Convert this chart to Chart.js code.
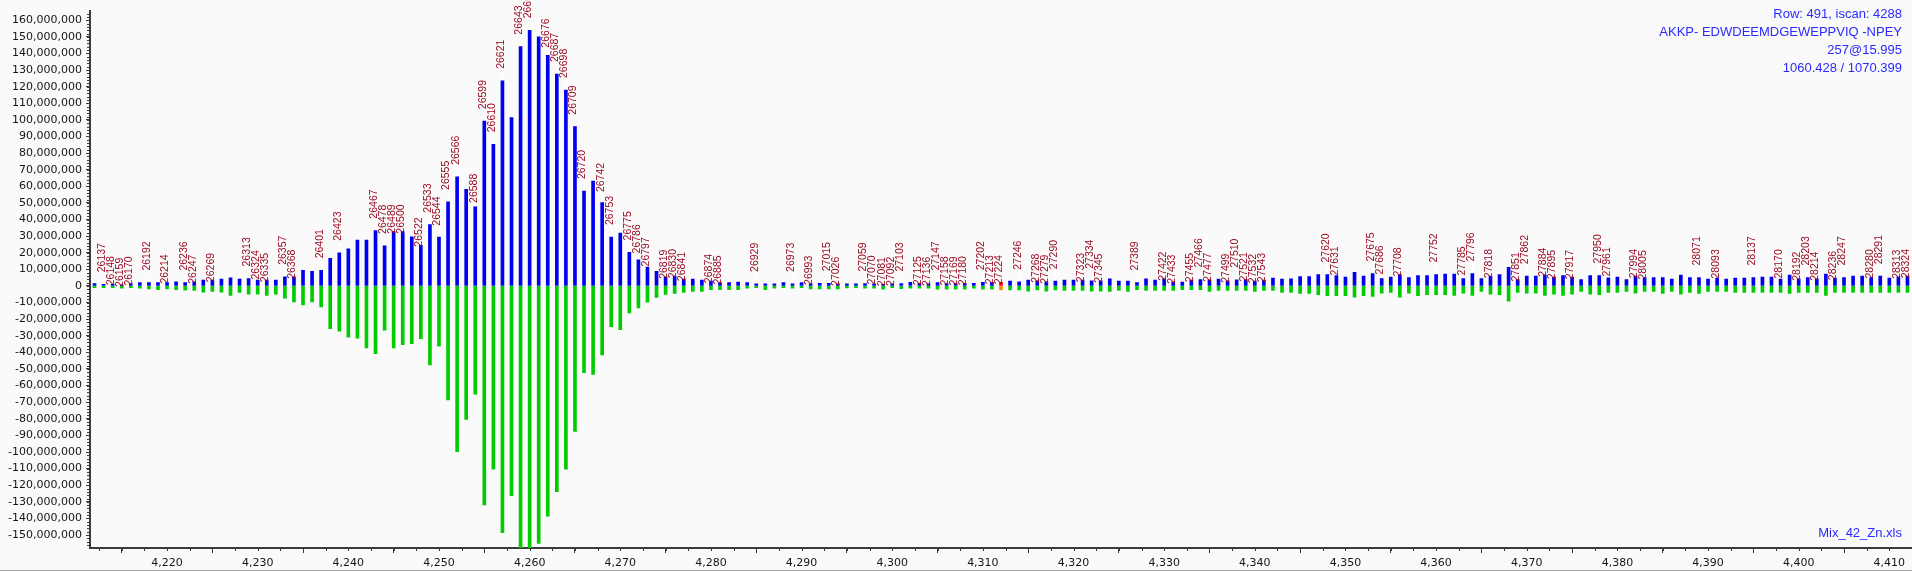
<!DOCTYPE html>
<html lang="en">
<head>
<meta charset="UTF-8">
<title>Mix_42_Zn</title>
<style>
  html, body { margin: 0; padding: 0; background: #fafafa; }
  #chart-wrap { width: 1912px; height: 571px; }
  canvas { display: block; }
</style>
</head>
<body>
<div id="chart-wrap"><canvas id="spectrum" width="1912" height="571"></canvas></div>

<script src="https://cdn.jsdelivr.net/npm/chart.js@4.4.1/dist/chart.umd.min.js"></script>
<script>
// m/z positions of the bars
const mz = [
  4212,4213,4214,4215,4216,4217,4218,4219,4220,4221,4222,4223,4224,4225,4226,4227,4228,4229,4230,4231,
  4232,4233,4234,4235,4236,4237,4238,4239,4240,4241,4242,4243,4244,4245,4246,4247,4248,4249,4250,4251,
  4252,4253,4254,4255,4256,4257,4258,4259,4260,4261,4262,4263,4264,4265,4266,4267,4268,4269,4270,4271,
  4272,4273,4274,4275,4276,4277,4278,4279,4280,4281,4282,4283,4284,4285,4286,4287,4288,4289,4290,4291,
  4292,4293,4294,4295,4296,4297,4298,4299,4300,4301,4302,4303,4304,4305,4306,4307,4308,4309,4310,4311,
  4312,4313,4314,4315,4316,4317,4318,4319,4320,4321,4322,4323,4324,4325,4326,4327,4328,4329,4330,4331,
  4332,4333,4334,4335,4336,4337,4338,4339,4340,4341,4342,4343,4344,4345,4346,4347,4348,4349,4350,4351,
  4352,4353,4354,4355,4356,4357,4358,4359,4360,4361,4362,4363,4364,4365,4366,4367,4368,4369,4370,4371,
  4372,4373,4374,4375,4376,4377,4378,4379,4380,4381,4382,4383,4384,4385,4386,4387,4388,4389,4390,4391,
  4392,4393,4394,4395,4396,4397,4398,4399,4400,4401,4402,4403,4404,4405,4406,4407,4408,4409,4410,4411,
  4412
];

// intensities in millions (blue, upward)
const upper = [
  1.4,1.0,1.0,0.6,1.4,2.0,2.0,2.0,2.0,2.5,2.0,2.5,3.5,3.5,4.1,4.9,4.1,4.5,3.5,3.5,
  3.5,5.5,5.5,9.4,8.8,9.4,16.7,20.0,22.4,27.6,27.6,33.3,24.1,32.7,32.7,29.6,24.5,36.9,29.4,50.6,
  65.7,58.2,47.6,99.2,85.3,123.5,101.4,144.1,153.9,150.0,138.8,127.6,118.0,95.9,57.1,63.1,50.2,29.4,31.8,20.2,
  15.7,11.4,8.8,5.5,5.9,4.1,4.1,3.5,2.9,2.0,2.0,2.4,2.0,1.2,1.2,1.2,2.0,1.2,2.0,1.2,
  1.6,1.6,1.2,1.2,1.2,1.4,1.2,1.0,1.2,1.4,2.2,1.6,1.2,2.0,1.4,1.4,1.6,1.6,2.2,2.2,
  2.2,2.9,2.5,3.5,3.1,2.5,2.9,3.5,3.5,3.5,3.1,3.1,4.3,2.9,2.9,2.0,4.3,3.5,4.3,2.5,
  2.4,3.5,3.9,3.7,4.1,3.1,3.7,3.9,2.9,3.5,4.7,4.1,4.3,5.7,5.7,6.9,6.9,6.3,5.3,8.2,
  5.9,7.5,4.5,5.3,6.9,5.1,6.3,6.3,6.9,7.1,7.1,4.5,7.5,4.5,5.9,6.9,11.2,3.9,5.9,5.9,
  6.7,5.3,6.3,5.3,3.9,6.3,6.3,4.9,5.3,3.9,5.9,5.1,5.1,5.1,4.1,6.5,5.1,5.1,4.1,4.7,
  4.1,4.7,4.7,5.1,5.3,5.3,4.1,6.5,4.3,5.1,4.3,7.1,4.7,5.1,5.9,5.9,5.1,5.9,4.7,5.5,
  5.9
];

// intensities in millions (green, downward)
const lower = [
  -1.0,-1.0,-1.0,-1.4,-1.0,-1.4,-1.8,-2.2,-1.8,-2.2,-2.5,-2.7,-3.7,-3.3,-3.7,-5.7,-3.9,-4.9,-4.9,-5.7,
  -4.9,-7.3,-9.6,-11.4,-9.6,-12.7,-25.7,-27.3,-30.8,-31.4,-37.3,-40.8,-26.7,-37.3,-35.3,-34.7,-31.8,-47.5,-36.3,-68.6,
  -99.8,-80.4,-65.1,-131.8,-110.4,-148.6,-126.3,-158.0,-158.0,-155.1,-138.6,-123.9,-110.4,-87.6,-52.2,-53.3,-41.6,-24.5,-26.3,-16.3,
  -13.3,-9.8,-6.9,-5.1,-4.5,-3.9,-3.3,-3.3,-2.2,-2.2,-2.2,-2.2,-1.4,-1.0,-2.2,-1.4,-1.0,-1.4,-1.0,-1.8,
  -1.8,-1.8,-1.8,-1.2,-1.0,-1.4,-1.4,-2.0,-1.0,-1.6,-1.4,-1.4,-1.4,-2.0,-2.0,-2.0,-2.0,-1.4,-2.0,-2.0,
  -2.4,-2.4,-2.4,-3.1,-2.4,-3.1,-2.4,-2.7,-2.7,-2.7,-3.1,-3.1,-3.3,-2.7,-3.3,-2.2,-2.7,-2.7,-2.7,-2.7,
  -2.2,-2.2,-2.2,-3.3,-2.7,-2.7,-2.7,-2.7,-3.3,-2.7,-2.7,-3.9,-3.9,-4.5,-4.5,-5.3,-5.9,-5.9,-5.9,-6.7,
  -5.9,-6.3,-4.3,-3.9,-6.7,-4.3,-5.9,-5.3,-5.3,-5.3,-5.7,-4.3,-5.7,-3.3,-4.9,-5.3,-9.2,-3.9,-4.3,-4.3,
  -5.7,-4.9,-5.7,-4.9,-3.3,-4.9,-5.3,-3.9,-3.9,-3.3,-4.3,-3.3,-3.3,-4.5,-3.3,-4.9,-3.9,-4.5,-3.3,-3.3,
  -3.3,-3.9,-3.9,-3.9,-3.9,-3.9,-3.9,-4.5,-3.9,-3.9,-3.9,-5.7,-3.9,-3.9,-3.9,-3.9,-3.9,-3.9,-3.9,-3.9,
  -3.9
];

// scan-number marks above the blue bars
const labelMz = [
  4213,4214,4215,4216,4218,4220,4222,4223,4225,4229,4230,4231,4233,4234,4237,4239,4243,4244,4245,4246,
  4248,4249,4250,4251,4252,4254,4255,4256,4257,4259,4260,4262,4263,4264,4265,4266,4268,4269,4271,4272,
  4273,4275,4276,4277,4280,4281,4285,4289,4291,4293,4294,4297,4298,4299,4300,4301,4303,4304,4305,4306,
  4307,4308,4310,4311,4312,4314,4316,4317,4318,4321,4322,4323,4327,4330,4331,4333,4334,4335,4337,4338,
  4339,4340,4341,4348,4349,4353,4354,4356,4360,4363,4364,4366,4369,4370,4372,4373,4375,4378,4379,4382,
  4383,4389,4391,4395,4398,4400,4401,4402,4404,4405,4408,4409,4411,4412
];
const labelText = [
  '26137','26148','26159','26170','26192','26214','26236','26247','26269','26313','26324','26335','26357','26368','26401','26423','26467','26478','26489','26500',
  '26522','26533','26544','26555','26566','26588','26599','26610','26621','26643','26654','26676','26687','26698','26709','26720','26742','26753','26775','26786',
  '26797','26819','26830','26841','26874','26885','26929','26973','26993','27015','27026','27059','27070','27081','27092','27103','27125','27136','27147','27158',
  '27169','27180','27202','27213','27224','27246','27268','27279','27290','27323','27334','27345','27389','27422','27433','27455','27466','27477','27499','27510',
  '27521','27532','27543','27620','27631','27675','27686','27708','27752','27785','27796','27818','27851','27862','27884','27895','27917','27950','27961','27994',
  '28005','28071','28093','28137','28170','28192','28203','28214','28236','28247','28280','28291','28313','28324'
];

// axis tick values
const xTicks = [4220,4230,4240,4250,4260,4270,4280,4290,4300,4310,4320,4330,4340,4350,4360,4370,4380,4390,4400,4410];
const yTicks = [-150,-140,-130,-120,-110,-100,-90,-80,-70,-60,-50,-40,-30,-20,-10,0,
                10,20,30,40,50,60,70,80,90,100,110,120,130,140,150,160]; // millions

const infoLines = ['Row: 491, iscan: 4288', 'AKKP- EDWDEEMDGEWEPPVIQ -NPEY', '257@15.995', '1060.428 / 1070.399'];
const fileName = 'Mix_42_Zn.xls';
const highlightMz = 4312;

const AXIS = '#3a3a3a';
const TICK_FONT = { family: 'DejaVu Sans', size: 11 };

// page background + bottom frame line
const background = {
  id: 'background',
  beforeDraw(chart) {
    const c = chart.ctx;
    c.save();
    c.fillStyle = '#fafafa';
    c.fillRect(0, 0, chart.width, chart.height);
    c.fillStyle = '#a8a8a8';
    c.fillRect(0, chart.height - 1, chart.width, 1);
    c.restore();
  }
};

// small ticks between the labelled ones
const minorTicks = {
  id: 'minorTicks',
  afterDraw(chart) {
    const c = chart.ctx, x = chart.scales.x, y = chart.scales.y;
    c.save();
    c.strokeStyle = AXIS;
    c.lineWidth = 1;
    c.beginPath();
    for (let v = Math.ceil(y.min / 2e6) * 2e6; v <= y.max; v += 2e6) {
      const py = Math.round(y.getPixelForValue(v)) + 0.5;
      c.moveTo(y.right - 3, py);
      c.lineTo(y.right, py);
    }
    for (let v = Math.ceil(x.min / 2.5) * 2.5; v <= x.max; v += 2.5) {
      const px = Math.round(x.getPixelForValue(v)) + 0.5;
      c.moveTo(px, x.top);
      c.lineTo(px, x.top + 3);
    }
    c.stroke();
    c.restore();
  }
};

// rotated scan labels, pushed down when their (unrotated) boxes collide
const peakMarks = {
  id: 'peakMarks',
  afterDatasetsDraw(chart) {
    const c = chart.ctx, x = chart.scales.x, y = chart.scales.y;
    const boxW = 30, boxH = 13, arrow = 12;
    const placed = [];
    labelMz.forEach((m, i) => {
      const idx = mz.indexOf(m);
      const px = x.getPixelForValue(m);
      const top = y.getPixelForValue(upper[idx] * 1e6);
      let bottom = top - arrow;
      let moved = true, guard = 0;
      while (moved && guard++ < 60) {
        moved = false;
        for (const p of placed) {
          if (Math.abs(p.x - px) < boxW && bottom - boxH < p.bottom && p.bottom - boxH < bottom) {
            bottom = p.bottom + boxH;
            moved = true;
          }
        }
      }
      bottom = Math.min(bottom, top + 2);
      placed.push({ x: px, bottom: bottom, top: top, text: labelText[i] });
    });

    c.save();
    c.strokeStyle = '#ffffff';
    c.lineWidth = 1;
    c.beginPath();
    placed.forEach(p => {
      if (p.bottom < p.top - 1) {
        const lx = Math.round(p.x) + 0.5;
        c.moveTo(lx, p.top - 1);
        c.lineTo(lx, p.bottom);
      }
    });
    c.stroke();

    c.fillStyle = '#9a0a22';
    c.font = '10.5px "Liberation Sans", Arial, sans-serif';
    c.textAlign = 'left';
    c.textBaseline = 'middle';
    placed.forEach(p => {
      c.save();
      c.translate(p.x - 1.5, p.bottom);
      c.rotate(-Math.PI / 2);
      c.fillText(p.text, 0, 0);
      c.restore();
    });
    c.restore();
  }
};

// info text in the corners
const infoText = {
  id: 'infoText',
  afterDraw(chart) {
    const c = chart.ctx;
    c.save();
    c.fillStyle = '#2a2aff';
    c.font = '13px "Liberation Sans", Arial, sans-serif';
    c.textAlign = 'right';
    c.textBaseline = 'middle';
    infoLines.forEach((t, i) => c.fillText(t, 1902, 14 + i * 18));
    c.fillText(fileName, 1902, 533);
    c.restore();
  }
};

const ctx = document.getElementById('spectrum').getContext('2d');

const chart = new Chart(ctx, {
  type: 'bar',
  data: {
    datasets: [
      {
        label: 'upper',
        data: mz.map((m, i) => ({ x: m, y: upper[i] * 1e6 })),
        backgroundColor: c => mz[c.dataIndex] === highlightMz ? '#ff0000' : '#0000f0',
        barThickness: 3,
        grouped: false
      },
      {
        label: 'lower',
        data: mz.map((m, i) => ({ x: m, y: lower[i] * 1e6 })),
        backgroundColor: c => mz[c.dataIndex] === highlightMz ? '#ff8c00' : '#00cc00',
        barThickness: 3,
        grouped: false
      }
    ]
  },
  options: {
    responsive: false,
    animation: false,
    devicePixelRatio: 1,
    layout: { padding: 0 },
    plugins: {
      legend: { display: false },
      tooltip: { enabled: false }
    },
    scales: {
      x: {
        type: 'linear',
        offset: false,
        min: 4211.5,
        max: 4412.5,
        afterBuildTicks: s => { s.ticks = xTicks.map(v => ({ value: v })); },
        afterFit: s => { s.height = 23; },
        border: { display: true, color: AXIS, width: 2 },
        grid: { drawOnChartArea: false, drawTicks: true, tickLength: 5, tickColor: AXIS },
        ticks: {
          autoSkip: false,
          maxRotation: 0,
          padding: 4,
          color: '#151515',
          font: TICK_FONT,
          callback: v => v.toLocaleString('en-US')
        }
      },
      y: {
        min: -157.8e6,
        max: 165.8e6,
        afterBuildTicks: s => { s.ticks = yTicks.map(v => ({ value: v * 1e6 })); },
        afterFit: s => { s.width = 90; },
        border: { display: true, color: AXIS, width: 2 },
        grid: { drawOnChartArea: false, drawTicks: true, tickLength: 4, tickColor: AXIS },
        ticks: {
          autoSkip: false,
          padding: 4,
          color: '#151515',
          font: TICK_FONT,
          callback: v => v.toLocaleString('en-US')
        }
      }
    }
  },
  plugins: [background, minorTicks, peakMarks, infoText]
});
</script>
</body>
</html>
